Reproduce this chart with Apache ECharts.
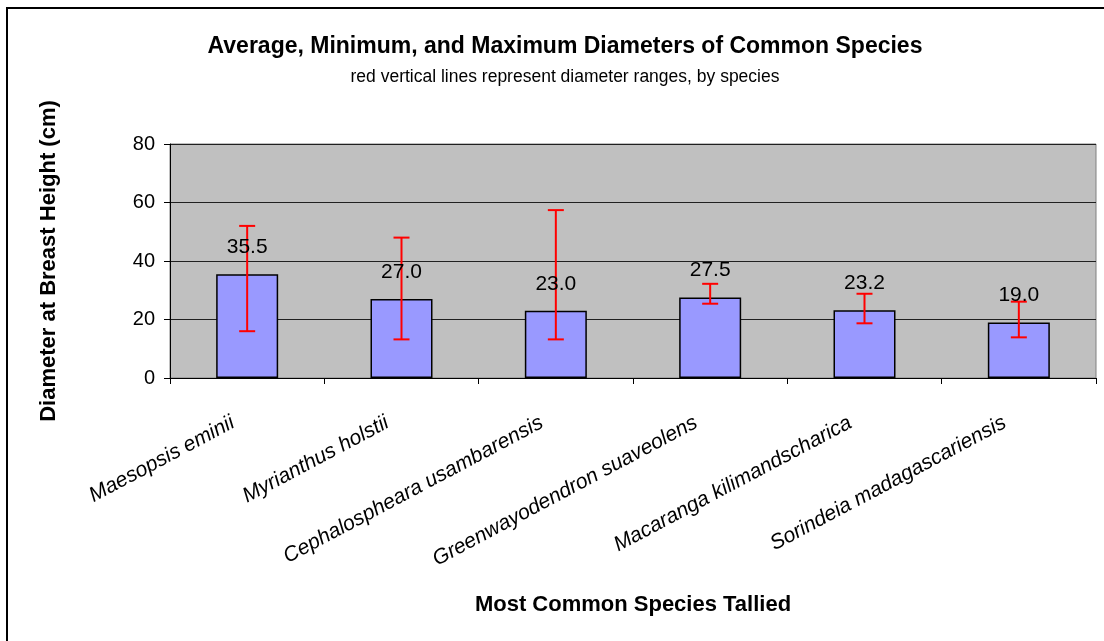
<!DOCTYPE html>
<html>
<head>
<meta charset="utf-8">
<script src="https://cdn.jsdelivr.net/npm/echarts@6/dist/echarts.min.js"></script>
<style>
  html, body { margin: 0; padding: 0; background: #fff; }
  #chart { width: 1104px; height: 641px; }
</style>
</head>
<body>
<div id="chart"></div>
<script>
const species = [
  'Maesopsis eminii',
  'Myrianthus holstii',
  'Cephalospheara usambarensis',
  'Greenwayodendron suaveolens',
  'Macaranga kilimandscharica',
  'Sorindeia madagascariensis'
]
const avgDiam = [35.5, 27.0, 23.0, 27.5, 23.2, 19.0]
const minDiam = [16.0, 13.2, 13.2, 25.4, 18.7, 13.9]
const maxDiam = [52.0, 48.0, 57.4, 32.2, 28.8, 26.1]
const yTicks = [0, 20, 40, 60, 80]

const font = '"Liberation Sans", Arial, sans-serif'
const chart = echarts.init(document.getElementById('chart'))

chart.setOption({
  backgroundColor: '#fff',
  animation: false,
  textStyle: { fontFamily: font },
  title: [
    {
      text: 'Average, Minimum, and Maximum Diameters of Common Species',
      left: 560, top: 30, textAlign: 'center',
      textStyle: { fontSize: 23, fontWeight: 'bold', color: '#000', fontFamily: font }
    },
    {
      text: 'red vertical lines represent diameter ranges, by species',
      left: 560, top: 63, textAlign: 'center',
      textStyle: { fontSize: 17.5, fontWeight: 'normal', color: '#000', fontFamily: font }
    }
  ],
  graphic: [
    // outer chart frame
    { type: 'rect', shape: { x: 7, y: 8, width: 1200, height: 700 }, style: { fill: 'none', stroke: '#000', lineWidth: 2 }, silent: true }
  ],
  grid: {
    left: 170, right: 8, top: 144, bottom: 263,
    show: true, backgroundColor: '#C0C0C0', borderColor: '#808080', borderWidth: 1
  },
  xAxis: {
    type: 'category',
    data: species,
    name: 'Most Common Species Tallied',
    nameLocation: 'middle',
    nameGap: 216,
    nameTextStyle: { fontSize: 22, fontWeight: 'bold', color: '#000' },
    axisLine: { lineStyle: { color: '#000', width: 1 } },
    axisTick: { show: true, length: 6, lineStyle: { color: '#000' } },
    axisLabel: {
      interval: 0, rotate: 28, margin: 36, fontSize: 21, fontStyle: 'italic', color: '#000',
      padding: [0, 16, 0, 0]
    }
  },
  yAxis: {
    type: 'value',
    min: yTicks[0], max: yTicks[yTicks.length - 1], interval: 20,
    name: 'Diameter at Breast Height (cm)',
    nameLocation: 'middle',
    nameGap: 110,
    nameRotate: 90,
    nameTextStyle: { fontSize: 22, fontWeight: 'bold', color: '#000' },
    axisLine: { show: true, lineStyle: { color: '#000', width: 1 } },
    axisTick: { show: true, length: 6, lineStyle: { color: '#000' } },
    axisLabel: { fontSize: 20, color: '#000', margin: 15 },
    splitLine: { lineStyle: { color: '#202020', width: 1 } }
  },
  series: [
    {
      name: 'Average',
      type: 'bar',
      data: avgDiam,
      barWidth: 62,
      z: 2,
      itemStyle: { color: '#9999FF', borderColor: '#000', borderWidth: 1.5 }
    },
    {
      name: 'Range',
      type: 'custom',
      z: 3,
      data: species.map((s, i) => [i, minDiam[i], maxDiam[i], avgDiam[i]]),
      renderItem: (params, api) => {
        const i = api.value(0)
        const lo = api.coord([i, api.value(1)])
        const hi = api.coord([i, api.value(2)])
        const mid = api.coord([i, api.value(3)])
        const cap = 8
        const st = { stroke: '#FF0000', lineWidth: 2 }
        return {
          type: 'group',
          children: [
            { type: 'line', shape: { x1: hi[0], y1: hi[1], x2: lo[0], y2: lo[1] }, style: st },
            { type: 'line', shape: { x1: hi[0] - cap, y1: hi[1], x2: hi[0] + cap, y2: hi[1] }, style: st },
            { type: 'line', shape: { x1: lo[0] - cap, y1: lo[1], x2: lo[0] + cap, y2: lo[1] }, style: st },
            {
              type: 'text',
              x: mid[0], y: mid[1] - 27,
              style: {
                text: api.value(3).toFixed(1),
                fontSize: 21, fontFamily: font, fill: '#000',
                textAlign: 'center', textVerticalAlign: 'middle'
              }
            }
          ]
        }
      }
    }
  ]
})
</script>
</body>
</html>
